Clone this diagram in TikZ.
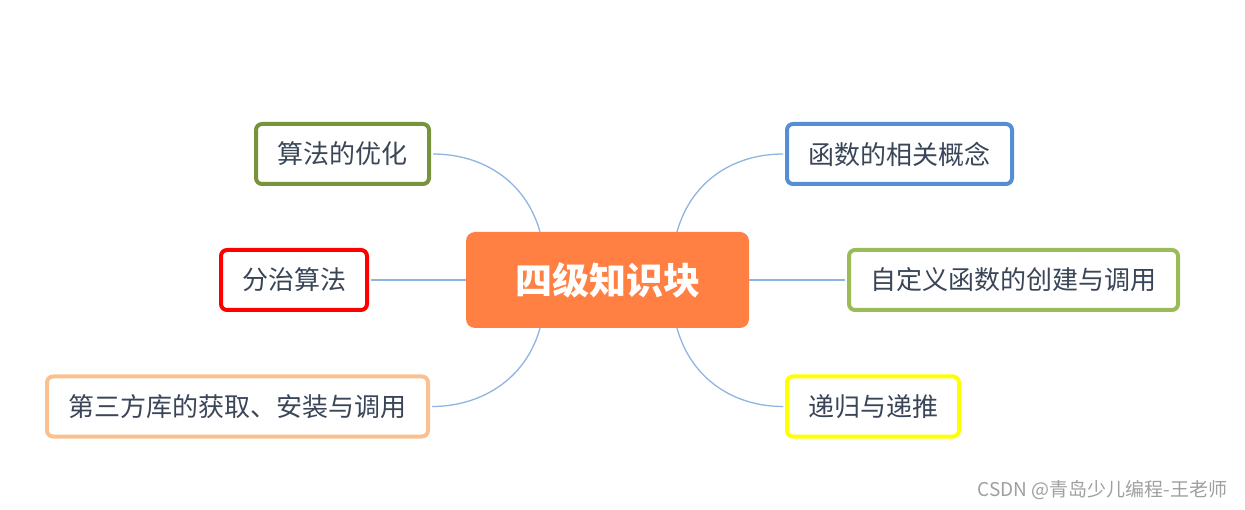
\documentclass[tikz,border=0pt]{standalone}
\usepackage{fontspec}
\newfontfamily\cjk{Noto Sans CJK SC}
\definecolor{txt}{HTML}{3A4658}
\definecolor{link}{HTML}{8EB4E3}
\definecolor{cfill}{HTML}{FF8042}
\definecolor{olive}{HTML}{77933C}
\definecolor{blueb}{HTML}{558ED5}
\definecolor{greenb}{HTML}{9BBB59}
\definecolor{peach}{HTML}{FAC090}
\definecolor{yel}{HTML}{FFFF00}
\definecolor{redb}{HTML}{FF0000}
\tikzset{
  leaf/.style={draw=#1, line width=4pt, rounded corners=6pt, fill=white,
    minimum height=60pt, inner sep=0pt, text=txt, font=\cjk\fontsize{26}{30}\selectfont},
  hub/.style={fill=cfill, rounded corners=9pt, minimum width=283pt, minimum height=96pt,
    text=white, font=\cjk\bfseries\fontsize{37}{42}\selectfont, inner sep=0pt},
  conn/.style={draw=link, line width=1.3pt}
}
\begin{document}
\begin{tikzpicture}[x=1pt,y=1pt]
\useasboundingbox (0,0) rectangle (1245,509);
\node[hub] (c) at (607.5,229) {四级知识块};
\node[leaf=olive, minimum width=173pt] (n1) at (342.5,355) {算法的优化};
\node[leaf=blueb, minimum width=225pt] (n2) at (899.5,355) {函数的相关概念};
\node[leaf=redb, minimum width=146pt] (n3) at (294,229) {分治算法};
\node[leaf=greenb, minimum width=329pt] (n4) at (1013.5,229) {自定义函数的创建与调用};
\node[leaf=peach, minimum width=381pt] (n5) at (237.5,102.5) {第三方库的获取、安装与调用};
\node[leaf=yel, minimum width=172pt] (n6) at (873,102.5) {递归与递推};
\node[text=gray!75, font=\cjk\fontsize{19}{22}\selectfont, anchor=east] (wm) at (1231,19) {CSDN @青岛少儿编程-王老师};
\coordinate (c1) at ([xshift=-67.5pt]c.north);
\coordinate (c2) at ([xshift=69.5pt]c.north);
\coordinate (c5) at ([xshift=-67.5pt]c.south);
\coordinate (c6) at ([xshift=69.5pt]c.south);
\path[conn] (c1) .. controls ([xshift=-15pt,yshift=53pt]c1) and ([xshift=49pt]n1.east) .. ([xshift=2pt]n1.east);
\path[conn] (c2) .. controls ([xshift=15pt,yshift=53pt]c2) and ([xshift=-49pt]n2.west) .. ([xshift=-2pt]n2.west);
\path[conn] (c5) .. controls ([xshift=-15pt,yshift=-53pt]c5) and ([xshift=49pt]n5.east) .. ([xshift=2pt]n5.east);
\path[conn] (c6) .. controls ([xshift=15pt,yshift=-53pt]c6) and ([xshift=-49pt]n6.west) .. ([xshift=-2pt]n6.west);
\path[conn] (c.west) -- ([xshift=2pt]n3.east);
\path[conn] (c.east) -- ([xshift=-2pt]n4.west);
\end{tikzpicture}
\end{document}
